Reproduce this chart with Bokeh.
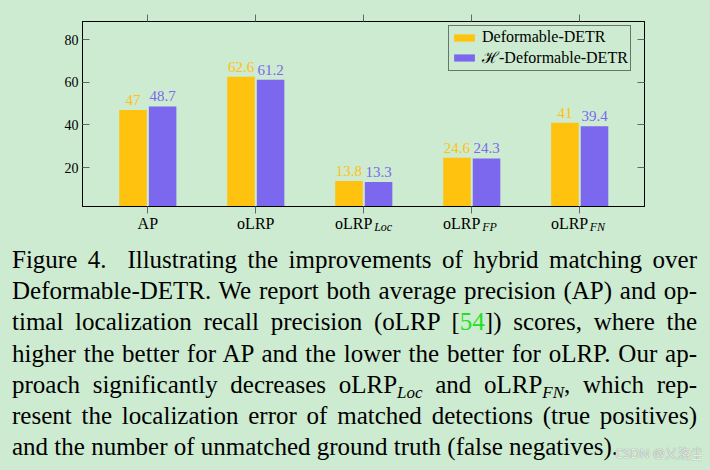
from bokeh.plotting import figure
from bokeh.models import (Range1d, FixedTicker, LinearAxis, ColumnDataSource,
                          LabelSet, Legend, LegendItem, Div)
from bokeh.layouts import column
from bokeh.embed import file_html
from bokeh.resources import INLINE

# ---------------- data ----------------
categories = ["AP", "oLRP", "oLRP", "oLRP", "oLRP"]
subscripts = ["", "", "Loc", "FP", "FN"]
deformable = [47, 62.6, 13.8, 24.6, 41]
h_deformable = [48.7, 61.2, 13.3, 24.3, 39.4]
y_ticks = [20, 40, 60, 80]
series_names = ["Deformable-DETR", "\u210b-Deformable-DETR"]

caption_lines = [
    "Figure 4.&nbsp; Illustrating the improvements of hybrid matching over",
    "Deformable-DETR. We report both average precision (AP) and op-",
    "timal localization recall precision (oLRP [<span style='color:#22e022'>54</span>]) scores, where the",
    "higher the better for AP and the lower the better for oLRP. Our ap-",
    "proach significantly decreases oLRP<sub>Loc</sub> and oLRP<sub>FN</sub>, which rep-",
    "resent the localization error of matched detections (true positives)",
    "and the number of unmatched ground truth (false negatives).",
]
watermark = "CSDN @\u4e42\u6d1b\u5c18"

# ---------------- style ----------------
BG = "#cdebd0"
YEL = "#ffc20e"
PUR = "#7b68ee"
FONT = "'Liberation Serif', serif"
YMIN, YMAX = 1.8, 88.5
OFF, BW = 0.137, 0.255
MAIN_SHIFT = 6 / 64                         # shift of the main label when a subscript follows
SUB_SHIFT = [0, 0, 23 / 128, 21 / 128, 21 / 128]   # subscript anchor shifts

idx = list(range(len(categories)))

p = figure(width=694, height=232, output_backend="svg", toolbar_location=None,
           x_range=Range1d(-0.605, 4.6), y_range=Range1d(YMIN, YMAX),
           min_border_left=74, min_border_right=58, min_border_top=13,
           min_border_bottom=34, background_fill_color=BG, border_fill_color=BG,
           outline_line_color="black", outline_line_width=1)
p.grid.visible = False

# bottom axis: minor ticks = category ticks, major ticks = label anchors
main_pos = [i - MAIN_SHIFT if subscripts[i] else i for i in idx]
xa = p.xaxis[0]
xa.ticker = FixedTicker(ticks=main_pos, minor_ticks=idx)
xa.major_label_overrides = {pos: categories[i] for i, pos in zip(idx, main_pos)}
xa.major_label_text_font = FONT
xa.major_label_text_font_size = "16px"
xa.major_label_text_color = "black"
xa.major_label_standoff = 1
xa.major_tick_in = 0
xa.major_tick_out = 7
xa.major_tick_line_color = None
xa.minor_tick_in = 0
xa.minor_tick_out = 7
xa.minor_tick_line_color = "#666666"
xa.axis_line_color = "black"

# subscripts axis (pulled up next to the main labels)
sub_idx = [i for i in idx if subscripts[i]]
sub_pos = [i + SUB_SHIFT[i] for i in sub_idx]
sub_axis = LinearAxis(ticker=FixedTicker(ticks=sub_pos, minor_ticks=[]),
                      major_label_overrides={pos: subscripts[i] for i, pos in zip(sub_idx, sub_pos)},
                      major_label_text_font=FONT, major_label_text_font_size="12px",
                      major_label_text_font_style="italic", major_label_text_color="black",
                      major_tick_in=0, major_tick_out=0, major_tick_line_color=None,
                      minor_tick_line_color=None, axis_line_color=None,
                      major_label_standoff=-15)
p.add_layout(sub_axis, "below")

ya = p.yaxis[0]
ya.ticker = FixedTicker(ticks=y_ticks)
ya.major_label_text_font = FONT
ya.major_label_text_font_size = "14px"
ya.major_label_text_color = "black"
ya.major_tick_in = 7
ya.major_tick_out = 0
ya.major_label_standoff = 4
ya.minor_tick_line_color = None
ya.major_tick_line_color = "#666666"
ya.axis_line_color = "black"

top_axis = LinearAxis(ticker=FixedTicker(ticks=idx), major_label_text_font_size="0px",
                      major_tick_in=0, major_tick_out=7, minor_tick_line_color=None,
                      major_tick_line_color="#666666", axis_line_color="black",
                      major_label_standoff=0)
p.add_layout(top_axis, "above")
right_axis = LinearAxis(ticker=FixedTicker(ticks=y_ticks), major_label_text_font_size="0px",
                        major_tick_in=7, major_tick_out=0, minor_tick_line_color=None,
                        major_tick_line_color="#666666", axis_line_color="black",
                        major_label_standoff=0)
p.add_layout(right_axis, "right")

src = ColumnDataSource(dict(
    xa=[i - OFF for i in idx], xb=[i + OFF for i in idx],
    a=deformable, b=h_deformable,
    la=[f"{v:g}" for v in deformable], lb=[f"{v:g}" for v in h_deformable],
))
r_a = p.vbar(x="xa", top="a", bottom=0, width=BW, fill_color=YEL, line_color=None, source=src)
r_b = p.vbar(x="xb", top="b", bottom=0, width=BW, fill_color=PUR, line_color=None, source=src)

p.add_layout(LabelSet(x="xa", y="a", text="la", source=src, text_align="center",
                      text_baseline="alphabetic", y_offset=5, text_font=FONT,
                      text_font_size="15px", text_color=YEL))
p.add_layout(LabelSet(x="xb", y="b", text="lb", source=src, text_align="center",
                      text_baseline="alphabetic", y_offset=5, text_font=FONT,
                      text_font_size="15px", text_color=PUR))

legend = Legend(items=[LegendItem(label=series_names[0], renderers=[r_a]),
                       LegendItem(label=series_names[1], renderers=[r_b])],
                location=(366, 135), orientation="vertical",
                label_text_font=FONT, label_text_font_size="16px", label_text_color="black",
                glyph_width=26, glyph_height=9, label_standoff=5, label_height=15,
                padding=2, spacing=-4, margin=0,
                border_line_color="black", border_line_width=1,
                background_fill_color=BG, background_fill_alpha=1.0)
p.add_layout(legend)

# ---------------- caption ----------------
LH = "31.2px"
line_style = ("text-align:justify;text-align-last:justify;white-space:nowrap;"
              f"height:{LH};line-height:{LH};")
last_style = f"white-space:nowrap;height:{LH};line-height:{LH};"
sub_style = "font-style:italic;font-size:17px;line-height:0;vertical-align:-5px;"
html_lines = []
for k, ln in enumerate(caption_lines):
    ln = ln.replace("<sub>", f"<span style='{sub_style}'>").replace("</sub>", "</span>")
    st = line_style if k < len(caption_lines) - 1 else last_style
    html_lines.append(f"<div style=\"{st}\">{ln}</div>")
caption_html = (
    f"<div style=\"position:relative;width:685px;height:220px;margin:-1px 0 0 -1px;padding:0;"
    f"font-family:'Liberation Serif',serif;font-size:25px;color:black;background:{BG};\">"
    + "".join(html_lines)
    + f"<span style=\"position:absolute;left:603px;top:202px;font-family:'Noto Sans','Noto Sans CJK SC';"
      f"font-size:13px;line-height:15px;color:rgba(255,255,255,0.85);text-shadow:0 0 1px #666;white-space:nowrap;\">{watermark}</span>"
    + "</div>"
)
div = Div(text=caption_html, width=694, height=222)

layout = column(p, div, spacing=0)
html = file_html(layout, INLINE)
html = html.replace("</head>", f"<style>html,body{{background:{BG};margin:0;}} body{{margin:8px;}}</style></head>", 1)
open("out.html", "w").write(html)
